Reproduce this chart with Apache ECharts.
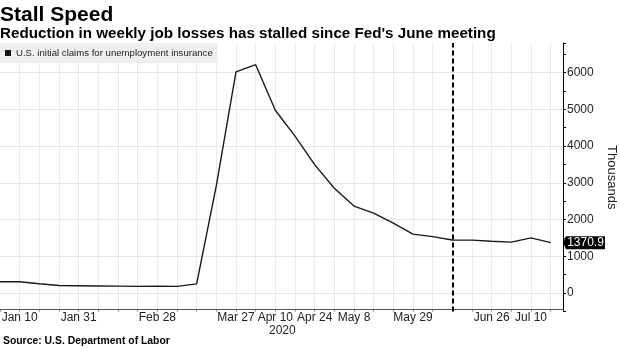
<!DOCTYPE html>
<html>
<head>
<meta charset="utf-8">
<script src="https://cdn.jsdelivr.net/npm/echarts@6/dist/echarts.min.js"></script>
<style>
  html, body { margin: 0; padding: 0; background: #fff; }
  #chart { width: 620px; height: 348px; }
</style>
</head>
<body>
<div id="chart"></div>
<script>
// Weekly initial jobless claims, thousands (week dates as plotted, Fridays)
const weekDates = [
  '2020-01-03', '2020-01-10', '2020-01-17', '2020-01-24', '2020-01-31',
  '2020-02-07', '2020-02-14', '2020-02-21', '2020-02-28', '2020-03-06',
  '2020-03-13', '2020-03-20', '2020-03-27', '2020-04-03', '2020-04-10',
  '2020-04-17', '2020-04-24', '2020-05-01', '2020-05-08', '2020-05-15',
  '2020-05-22', '2020-05-29', '2020-06-05', '2020-06-12', '2020-06-19',
  '2020-06-26', '2020-07-03', '2020-07-10', '2020-07-17'
];
const claims = [
  310, 308, 255, 205, 200,
  195, 190, 183, 188, 182,
  251, 2920, 6016, 6211, 4972,
  4267, 3493, 2849, 2366, 2175,
  1900, 1605, 1535, 1445, 1440,
  1410, 1385, 1500, 1370.9
];

// Labelled x ticks and the year caption shown under one of them
const xTickLabels = ['Jan 10', 'Jan 31', 'Feb 28', 'Mar 27', 'Apr 10', 'Apr 24', 'May 8', 'May 29', 'Jun 26', 'Jul 10'];
const yearCaption = { under: 'Apr 10', text: '2020' };

// Fed meeting marker (weekly point)
const fedMeetingDate = '2020-06-12';

// Y axis: range, tick step, labelled step
const yMin = -500, yMax = 6800, yStep = 500, yLabelStep = 1000;
// X axis: days from first week; right edge a few days past last point
const xMaxDays = 200.4, xStepDays = 7;

const seriesName = 'U.S. initial claims for unemployment insurance';
const FONT = 'Liberation Sans';
const MONTHS = ['Jan','Feb','Mar','Apr','May','Jun','Jul','Aug','Sep','Oct','Nov','Dec'];
const DAY = 86400000;
const t0 = Date.parse(weekDates[0]);
const toDays = d => (Date.parse(d) - t0) / DAY;
const dayLabel = v => {
  const dt = new Date(t0 + Math.round(v) * DAY);
  return MONTHS[dt.getUTCMonth()] + ' ' + dt.getUTCDate();
};

const points = weekDates.map((d, i) => [toDays(d), claims[i]]);
const last = points[points.length - 1];

const chart = echarts.init(document.getElementById('chart'), null, { renderer: 'canvas' });
chart.setOption({
  animation: false,
  backgroundColor: '#fff',
  textStyle: { fontFamily: FONT },
  title: [
    {
      text: 'Stall Speed',
      subtext: "Reduction in weekly job losses has stalled since Fed's June meeting",
      left: 0, top: 5, padding: 0, itemGap: 0,
      textStyle: { fontFamily: FONT, fontSize: 21, fontWeight: 'bold', color: '#000' },
      subtextStyle: { fontFamily: FONT, fontSize: 15.2, fontWeight: 'bold', color: '#000' }
    },
    {
      text: 'Source: U.S. Department of Labor',
      left: 3, top: 336, padding: 0,
      textStyle: { fontFamily: FONT, fontSize: 10.4, fontWeight: 'bold', color: '#000' }
    }
  ],
  legend: {
    left: 0, top: 43,
    padding: [5, 5, 5, 5],
    backgroundColor: '#efefef',
    icon: 'rect', itemWidth: 6, itemHeight: 6,
    textStyle: { fontFamily: FONT, fontSize: 9.6, color: '#222' },
    data: [seriesName]
  },
  grid: { left: 0, right: 57, top: 43, bottom: 36.5, containLabel: false, outerBoundsMode: 'none' },
  xAxis: {
    type: 'value',
    min: 0, max: xMaxDays, interval: xStepDays,
    offset: -2,
    axisLine: { show: true, onZero: false, lineStyle: { color: '#555', width: 1 } },
    axisTick: { show: true, length: 2, lineStyle: { color: '#777' } },
    splitLine: { show: true, showMinLine: false, showMaxLine: false, lineStyle: { color: '#ebebeb', width: 1 } },
    axisLabel: {
      margin: 2, fontSize: 12, color: '#222', fontFamily: FONT, lineHeight: 13,
      showMaxLabel: false,
      rich: { yr: { fontSize: 12, fontFamily: FONT, color: '#222', padding: [0, 0, 0, 14], lineHeight: 13 } },
      formatter: v => {
        if (Math.abs(v - Math.round(v)) > 1e-6) return '';
        const lbl = dayLabel(v);
        if (!xTickLabels.includes(lbl)) return '';
        return lbl === yearCaption.under ? lbl + '\n{yr|' + yearCaption.text + '}' : lbl;
      }
    }
  },
  yAxis: {
    type: 'value', position: 'right',
    min: yMin, max: yMax, interval: yStep,
    name: 'Thousands', nameLocation: 'middle', nameRotate: -90, nameGap: 41,
    nameTextStyle: { fontFamily: FONT, fontSize: 13, color: '#222' },
    axisLine: { show: true, onZero: false, lineStyle: { color: '#000', width: 1 } },
    axisTick: { show: true, length: 3, lineStyle: { color: '#000' } },
    splitLine: { show: true, showMinLine: false, showMaxLine: false,
                 lineStyle: { color: ['#e6e6e6', 'rgba(0,0,0,0)'], width: 1 } },
    axisLabel: {
      margin: 4, fontSize: 12, color: '#222', fontFamily: FONT,
      formatter: v => (v >= 0 && v % yLabelStep === 0) ? String(v) : ''
    }
  },
  series: [{
    name: seriesName,
    type: 'line',
    data: points,
    showSymbol: false, symbol: 'none',
    color: '#111',
    lineStyle: { color: '#1a1a1a', width: 1.4 },
    markLine: {
      silent: true, symbol: 'none',
      label: { show: false },
      lineStyle: { color: '#000', type: [5, 3], width: 2 },
      data: [{ xAxis: toDays(fedMeetingDate) }]
    },
    markPoint: {
      silent: true,
      symbol: 'path://M0,6.5 L3,0 L42,0 L42,13 L3,13 Z',
      symbolSize: [42, 13], symbolKeepAspect: false,
      symbolOffset: [21, 0],
      itemStyle: { color: '#000' },
      label: {
        show: true, position: 'inside', color: '#fff', fontSize: 12, fontFamily: FONT,
        offset: [1.5, 0.5], formatter: p => p.value
      },
      data: [{ coord: [xMaxDays, last[1]], value: last[1].toFixed(1) }]
    }
  }]
});
</script>
</body>
</html>
